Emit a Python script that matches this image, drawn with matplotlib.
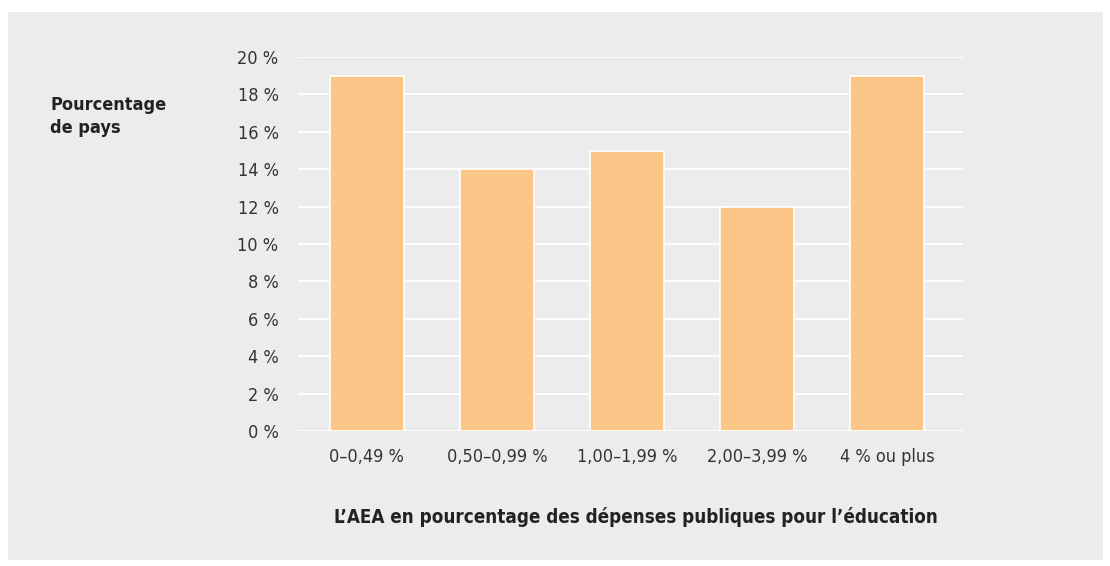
import matplotlib.pyplot as plt
from matplotlib.patches import Rectangle
from matplotlib import font_manager

categories = ["0–0,49 %", "0,50–0,99 %", "1,00–1,99 %", "2,00–3,99 %", "4 % ou plus"]
values = [19, 14, 15, 12, 19]
yticks = [0, 2, 4, 6, 8, 10, 12, 14, 16, 18, 20]

names = {f.name for f in font_manager.fontManager.ttflist}
family = "Liberation Sans Narrow" if "Liberation Sans Narrow" in names else "DejaVu Sans"
plt.rcParams['font.family'] = [family, 'DejaVu Sans']
plt.rcParams['font.stretch'] = 'condensed'

fig = plt.figure(figsize=(11.1, 5.66), dpi=100)
fig.patch.set_facecolor('white')
fig.patches.append(Rectangle((8 / 1110, 6 / 566), 1095 / 1110, 548 / 566,
                             transform=fig.transFigure, facecolor='#ececec',
                             edgecolor='none', zorder=-10))

ax = fig.add_axes([298 / 1110, 1 - 431 / 566, 665 / 1110, 374 / 566])
ax.set_zorder(2)
ax.set_facecolor('none')
ax.bar(range(len(values)), values, width=0.57, color='#fdc689',
       edgecolor='white', linewidth=1.2, zorder=3)
ax.set_ylim(0, 20)
ax.set_xlim(-0.53, 4.585)
ax.set_yticks(yticks)
ax.set_yticklabels([f"{v} %" for v in yticks])
ax.set_xticks(range(len(categories)))
ax.set_xticklabels(categories)
ax.tick_params(length=0, labelsize=13, colors='#333333')
ax.tick_params(axis='y', pad=14)
ax.tick_params(axis='x', pad=12)
ax.yaxis.grid(True, color='white', linewidth=1.3, zorder=1)
ax.set_axisbelow(True)
for s in ax.spines.values():
    s.set_visible(False)

fig.text(50 / 1110, 1 - 96 / 566, "Pourcentage\nde pays", fontsize=13,
         fontweight='bold', color='#222222', ha='left', va='top', linespacing=1.35)
fig.text(636 / 1110, 1 - 517 / 566,
         "L’AEA en pourcentage des dépenses publiques pour l’éducation",
         fontsize=13.5, fontweight='bold', color='#222222', ha='center', va='center')

fig.savefig("out.png", dpi=100)
